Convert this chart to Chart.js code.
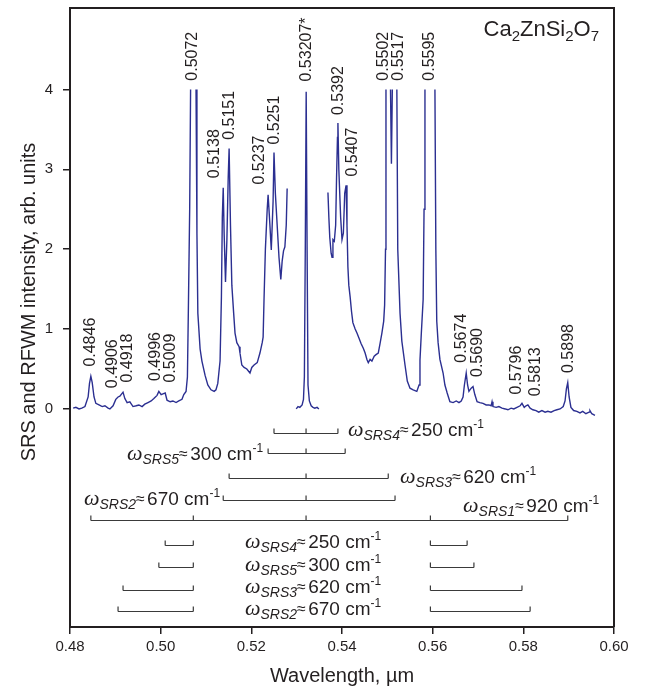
<html lang="en">
<head>
<meta charset="UTF-8">
<script src="https://cdn.jsdelivr.net/npm/chart.js"></script>
<style>
  body { margin: 0; background: #fff; }
  canvas { display: block; }
</style>
</head>
<body>
<canvas id="chart" width="645" height="688"></canvas>
<script>
// spectrum, wavelength in um; null = break in the trace (clipped peaks / gaps)
const wl = [
  0.4807,0.4813,0.4820,0.4826,0.4833,0.4840,0.4843,0.4846,0.4849,0.4853,0.4857,0.4864,0.4871,0.4877,0.4884,0.4888,
  0.4895,0.4901,0.4906,0.4910,0.4917,0.4921,0.4926,0.4932,0.4939,0.4946,0.4952,0.4959,0.4965,0.4972,0.4979,0.4985,
  0.4992,0.4996,0.5001,0.5005,0.5010,0.5014,0.5021,0.5027,0.5034,0.5040,0.5047,0.5051,0.5056,0.5059,0.5061,0.5064,0.5066,
  0.5070,
  0.5078,0.5080,0.5082,0.5087,0.5091,0.5098,0.5104,0.5111,0.5118,0.5122,0.5126,0.5131,0.5134,0.5136,0.5138,0.5140,
  0.5143,0.5146,0.5149,0.5151,0.5154,0.5157,0.5161,0.5164,0.5168,0.5173,0.5175,0.5179,0.5184,0.5190,0.5197,0.5201,
  0.5206,0.5213,0.5219,0.5224,0.5226,0.5228,0.5231,0.5235,0.5237,0.5241,0.5244,0.5248,0.5250,0.5253,0.5257,0.5261,
  0.5265,0.5268,0.5271,0.5274,0.5277,0.5279,
  0.5290,
  0.5299,0.5303,0.5307,0.5312,0.5315,0.5317,0.5319,0.5321,0.5323,0.5325,0.5328,0.5332,0.5336,0.5340,0.5345,0.5349,
  0.5360,
  0.5369,0.5371,0.5373,0.5376,0.5378,0.5380,0.5383,0.5386,0.5388,0.5390,0.5391,0.5393,0.5397,0.5400,0.5403,0.5406,
  0.5409,0.5411,0.5413,0.5415,0.5418,0.5421,0.5424,0.5429,0.5433,0.5438,0.5442,0.5447,0.5451,0.5455,0.5458,0.5462,
  0.5466,0.5471,0.5475,0.5480,0.5484,0.5488,0.5492,0.5494,0.5496,0.5497,
  0.5502,
  0.5507,0.5509,0.5511,
  0.5516,
  0.5521,0.5523,0.5528,0.5532,0.5539,0.5544,0.5550,0.5557,0.5565,0.5570,0.5572,0.5575,0.5579,0.5581,0.5583,
  0.5595,
  0.5605,0.5607,0.5609,0.5612,0.5616,0.5623,0.5627,0.5632,0.5638,0.5645,0.5652,0.5658,0.5663,0.5667,0.5670,0.5674,
  0.5677,0.5680,0.5685,0.5689,0.5693,0.5698,0.5704,0.5711,0.5718,0.5724,0.5729,0.5731,0.5733,0.5740,0.5746,0.5753,
  0.5760,0.5766,0.5773,0.5779,0.5786,0.5793,0.5797,0.5802,0.5806,0.5810,0.5815,0.5821,0.5828,0.5834,0.5841,0.5848,
  0.5854,0.5861,0.5868,0.5874,0.5881,0.5888,0.5892,0.5895,0.5898,0.5901,0.5905,0.5911,0.5918,0.5925,0.5931,0.5938,
  0.5945,0.5947,0.5951,0.5958
];
const srs = [
  0.01,0.02,0.00,0.01,0.03,0.15,0.32,0.41,0.33,0.15,0.07,0.05,0.03,0.04,0.01,0.00,
  0.04,0.12,0.15,0.16,0.21,0.13,0.08,0.09,0.03,0.04,0.05,0.03,0.06,0.08,0.10,0.13,
  0.17,0.22,0.18,0.19,0.20,0.11,0.09,0.10,0.08,0.10,0.12,0.18,0.22,0.40,1.20,2.50,4.00,
  null,
  4.00,2.20,1.20,0.75,0.60,0.42,0.30,0.24,0.22,0.24,0.32,0.60,1.40,2.40,2.77,2.20,
  1.59,2.10,2.90,3.26,2.30,1.55,1.20,0.95,0.83,0.78,0.70,0.55,0.52,0.50,0.45,0.52,
  0.55,0.58,0.70,0.83,0.90,1.37,2.00,2.50,2.68,2.30,1.99,2.60,3.21,2.70,2.30,1.90,
  1.62,1.85,1.98,2.03,2.30,2.76,
  null,
  0.00,0.03,0.02,0.05,0.12,0.40,2.00,3.97,2.00,0.30,0.10,0.04,0.02,0.01,0.02,0.00,
  null,
  2.71,2.40,2.15,1.95,1.90,2.12,2.10,2.30,2.90,3.40,3.58,3.00,2.40,2.12,2.20,2.70,
  2.80,2.30,1.78,1.55,1.40,1.22,1.08,1.00,0.95,0.88,0.82,0.76,0.70,0.62,0.58,0.62,
  0.60,0.66,0.68,0.70,0.82,0.95,1.10,1.30,2.00,4.00,
  null,
  4.00,3.07,4.00,
  null,
  4.00,2.00,1.20,0.85,0.55,0.35,0.26,0.24,0.22,0.30,0.61,0.95,1.37,2.50,4.00,
  null,
  4.00,2.00,1.10,0.83,0.62,0.45,0.30,0.20,0.09,0.08,0.10,0.08,0.10,0.15,0.30,0.45,
  0.30,0.22,0.26,0.28,0.18,0.09,0.08,0.07,0.05,0.05,0.04,0.09,0.03,0.02,0.03,0.01,
  0.00,-0.01,0.01,0.00,0.02,0.04,0.07,0.02,0.04,0.05,0.01,-0.01,-0.02,-0.04,-0.02,-0.04,
  -0.03,-0.04,-0.02,-0.01,0.00,0.03,0.10,0.25,0.33,0.15,0.02,-0.02,-0.03,-0.05,-0.03,-0.06,
  -0.04,-0.02,-0.06,-0.08
];

// peak labels: text, label x (um), y of the label's lower end (data units)
const peakText = ['0.4846','0.4906','0.4918','0.4996','0.5009','0.5072','0.5138','0.5151','0.5237','0.5251',
  '0.53207*','0.5392','0.5407','0.5502','0.5517','0.5595','0.5674','0.5690','0.5796','0.5813','0.5898'];
const peakX = [0.4846,0.4893,0.4928,0.4988,0.5021,0.5071,0.5118,0.5153,0.5219,0.5252,
  0.5323,0.5393,0.5424,0.5491,0.5524,0.5594,0.5663,0.5700,0.5786,0.5826,0.5899];
const peakY = [0.53,0.26,0.33,0.35,0.33,4.11,2.89,3.37,2.81,3.31,
  4.10,3.68,2.91,4.11,4.11,4.11,0.58,0.40,0.18,0.16,0.45];

// Raman shifts around the pump line
const pumpWl = 0.53207;
const upIdx = ['4','5','3','2','1'];
const upCm = [250,300,620,670,920];
const upFrom = [0.5250,0.5237,0.5151,0.5138,0.4846];
const upTo = [0.5391,0.5407,0.5502,0.5517,0.5898];
const upY = [-0.30,-0.55,-0.865,-1.14,-1.39];
const upExtraTicks = [0.5072,0.5595];
const upLabelX = [0.5413,0.5226,0.5528,0.5131,0.5667];
const upLabelY = [-0.34,-0.64,-0.93,-1.20,-1.29];
const upLabelAlign = ['left','right','left','right','left'];

// Raman shifts around 0.5072 and 0.5595
const lowIdx = ['4','5','3','2'];
const lowCm = [250,300,620,670];
const lowLeft = [0.5010,0.4996,0.4917,0.4906];
const lowRight = [0.5676,0.5691,0.5797,0.5815];
const lowY = [-1.70,-1.98,-2.27,-2.53];
const lowLabelX = 0.5186;
const lowLabelY = [-1.74,-2.03,-2.31,-2.58];
const lowInner = [0.5072,0.5595];

const SANS = '"Liberation Sans", Arial, sans-serif';
const SERIF = '"Liberation Serif", "Times New Roman", serif';
const INK = '#231f20';

function shiftLabel(ctx, x, y, idx, cm, align) {
  const parts = [
    { t: '\u03c9', f: 'italic 22px ' + SERIF, dy: 0 },
    { t: 'SRS' + idx, f: 'italic 14px ' + SANS, dy: 4 },
    { t: '\u2248', f: '16px ' + SANS, dy: -1 },
    { t: ' ' + cm + ' cm', f: '19px ' + SANS, dy: 0, pre: -3 },
    { t: '-1', f: '12px ' + SANS, dy: -8 }
  ];
  let w = 0;
  parts.forEach(p => { ctx.font = p.f; p.w = ctx.measureText(p.t).width + (p.pre || 0); w += p.w; });
  let cx = align === 'right' ? x - w : x;
  ctx.textAlign = 'left';
  ctx.textBaseline = 'alphabetic';
  parts.forEach(p => {
    ctx.font = p.f;
    ctx.fillText(p.t, cx + (p.pre || 0), y + p.dy);
    cx += p.w;
  });
}

const decor = {
  id: 'decor',
  afterDatasetsDraw(chart) {
    const ctx = chart.ctx, xs = chart.scales.x, ys = chart.scales.y, a = chart.chartArea;
    const px = v => xs.getPixelForValue(v), py = v => ys.getPixelForValue(v);
    ctx.save();

    // frame top and right
    ctx.strokeStyle = INK;
    ctx.lineWidth = 2;
    ctx.beginPath();
    ctx.moveTo(a.left, a.top); ctx.lineTo(a.right, a.top); ctx.lineTo(a.right, a.bottom);
    ctx.stroke();

    // peak labels
    ctx.fillStyle = INK;
    ctx.font = '16px ' + SANS;
    ctx.textAlign = 'left';
    ctx.textBaseline = 'middle';
    peakText.forEach((t, i) => {
      ctx.save();
      ctx.translate(px(peakX[i]), py(peakY[i]));
      ctx.rotate(-Math.PI / 2);
      ctx.fillText(t, 0, 0);
      ctx.restore();
    });

    // shift brackets
    ctx.strokeStyle = '#3a3a3a';
    ctx.lineWidth = 1.2;
    const tickH = 5;
    const bracket = (x1, x2, yv, ticks) => {
      const y = Math.round(py(yv)) + 0.5;
      ctx.beginPath();
      ctx.moveTo(px(x1), y); ctx.lineTo(px(x2), y);
      ticks.forEach(t => { ctx.moveTo(px(t), y); ctx.lineTo(px(t), y - tickH); });
      ctx.stroke();
    };
    upY.forEach((yv, i) => {
      const ticks = [upFrom[i], pumpWl, upTo[i]];
      if (i === upY.length - 1) ticks.push(...upExtraTicks);
      bracket(upFrom[i], upTo[i], yv, ticks);
      shiftLabel(ctx, px(upLabelX[i]), py(upLabelY[i]), upIdx[i], upCm[i], upLabelAlign[i]);
    });
    lowY.forEach((yv, i) => {
      bracket(lowLeft[i], lowInner[0], yv, [lowLeft[i], lowInner[0]]);
      bracket(lowInner[1], lowRight[i], yv, [lowInner[1], lowRight[i]]);
      shiftLabel(ctx, px(lowLabelX), py(lowLabelY[i]), lowIdx[i], lowCm[i], 'left');
    });

    // compound name
    const name = [['Ca',0],['2',1],['ZnSi',0],['2',1],['O',0],['7',1]];
    let w = 0;
    name.forEach(n => { ctx.font = (n[1] ? '15px ' : '22px ') + SANS; w += ctx.measureText(n[0]).width; });
    let cx = a.right - 15 - w;
    ctx.textAlign = 'left';
    ctx.textBaseline = 'alphabetic';
    name.forEach(n => {
      ctx.font = (n[1] ? '15px ' : '22px ') + SANS;
      ctx.fillText(n[0], cx, a.top + 28 + (n[1] ? 5 : 0));
      cx += ctx.measureText(n[0]).width;
    });

    // y axis title
    ctx.save();
    ctx.font = '20px ' + SANS;
    ctx.textAlign = 'center';
    ctx.textBaseline = 'middle';
    ctx.translate(29, 302);
    ctx.rotate(-Math.PI / 2);
    ctx.fillText('SRS and RFWM intensity, arb. units', 0, 0);
    ctx.restore();

    ctx.restore();
  }
};

new Chart(document.getElementById('chart'), {
  type: 'line',
  data: {
    datasets: [{
      data: wl.map((x, i) => ({ x: x, y: srs[i] })),
      borderColor: '#2b2f91',
      borderWidth: 1.4,
      pointRadius: 0,
      tension: 0,
      spanGaps: false,
      fill: false
    }]
  },
  options: {
    responsive: false,
    animation: false,
    devicePixelRatio: 1,
    layout: { padding: { top: 8, right: 31, left: 0, bottom: 0 } },
    plugins: { legend: { display: false }, tooltip: { enabled: false } },
    scales: {
      x: {
        type: 'linear',
        min: 0.48, max: 0.60,
        afterFit(s) { s.height = 61; },
        ticks: {
          stepSize: 0.02,
          color: INK,
          font: { family: SANS, size: 15 },
          padding: 4,
          maxRotation: 0,
          callback: v => v.toFixed(2)
        },
        grid: { drawOnChartArea: false, drawTicks: true, tickLength: 7, color: INK, lineWidth: 1.5 },
        border: { display: true, color: INK, width: 2 },
        title: {
          display: true, text: 'Wavelength, \u00b5m', color: INK,
          font: { family: SANS, size: 20 }, padding: { top: 0, bottom: 0 }
        }
      },
      y: {
        type: 'linear',
        min: -2.73, max: 5.02,
        afterFit(s) { s.width = 70; s.paddingTop = 0; s.paddingBottom = 0; },
        afterBuildTicks(s) { s.ticks = [0, 1, 2, 3, 4].map(v => ({ value: v })); },
        ticks: { color: INK, font: { family: SANS, size: 15 }, padding: 10 },
        grid: { drawOnChartArea: false, drawTicks: true, tickLength: 7, color: INK, lineWidth: 1.5 },
        border: { display: true, color: INK, width: 2 }
      }
    }
  },
  plugins: [decor]
});
</script>
</body>
</html>
